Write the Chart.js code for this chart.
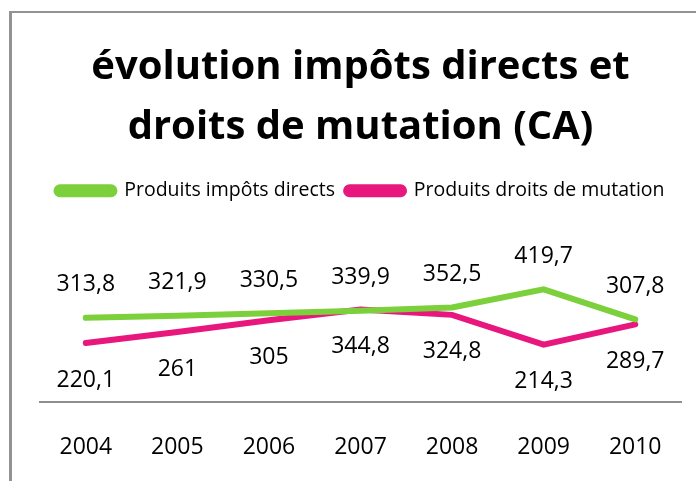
<!DOCTYPE html>
<html>
<head>
<meta charset="utf-8">
<script src="https://cdn.jsdelivr.net/npm/chart.js@4"></script>
<style>
  body { margin: 0; background: #fff; }
  #frame { position: absolute; left: 9px; top: 11px; width: 720px; height: 500px;
           border-left: 3px solid #929292; border-top: 2px solid #929292; }
  #wrap { position: absolute; left: 0; top: 0; width: 696px; height: 481px; }
</style>
</head>
<body>
<div id="frame"></div>
<div id="wrap"><canvas id="chart" width="696" height="481"></canvas></div>
<script>
// ── Data ──────────────────────────────────────────────────────────────────────
const YEARS = ['2004', '2005', '2006', '2007', '2008', '2009', '2010'];
const IMPOTS = [313.8, 321.9, 330.5, 339.9, 352.5, 419.7, 307.8];
const MUTATION = [220.1, 261, 305, 344.8, 324.8, 214.3, 289.7];

const GREEN = '#7CD03B';
const PINK = '#E8177D';
const FONT = "'Open Sans', sans-serif";

// value labels: green above the line, pink below
const valueLabels = {
  id: 'valueLabels',
  afterDatasetsDraw(chart) {
    const ctx = chart.ctx;
    ctx.save();
    ctx.font = '23px ' + FONT;
    ctx.fillStyle = '#000';
    ctx.textAlign = 'center';
    ctx.textBaseline = 'middle';
    chart.data.datasets.forEach((ds, i) => {
      const off = i === 0 ? -33 : 37;
      chart.getDatasetMeta(i).data.forEach((pt, j) => {
        const txt = String(ds.data[j]).replace('.', ',');
        ctx.fillText(txt, pt.x, pt.y + off);
      });
    });
    ctx.restore();
  }
};

new Chart(document.getElementById('chart'), {
  type: 'line',
  data: {
    labels: YEARS,
    datasets: [
      { label: 'Produits impôts directs', data: IMPOTS, borderColor: GREEN, backgroundColor: GREEN },
      { label: 'Produits droits de mutation', data: MUTATION, borderColor: PINK, backgroundColor: PINK },
    ],
  },
  options: {
    responsive: false,
    animation: false,
    layout: { padding: { left: 40, right: 15, top: 38, bottom: -11 } },
    elements: {
      line: { borderWidth: 6, tension: 0, borderCapStyle: 'round', borderJoinStyle: 'miter' },
      point: { radius: 0 },
    },
    plugins: {
      title: {
        display: true,
        text: ['évolution impôts directs et', 'droits de mutation (CA)'],
        font: { family: FONT, size: 40, weight: 'bold', lineHeight: 1.5 },
        color: '#000',
        padding: { top: 0, bottom: 12 },
      },
      legend: {
        display: true,
        labels: {
          boxWidth: 58,
          boxHeight: 7,
          useBorderRadius: true,
          borderRadius: 3.5,
          color: '#000',
          font: { family: FONT, size: 19.5 },
          padding: 11,
        },
      },
      tooltip: { enabled: false },
    },
    scales: {
      x: {
        offset: true,
        grid: { display: false, drawTicks: false },
        border: { display: true, color: '#8e8e8e', width: 2 },
        ticks: { color: '#000', font: { family: FONT, size: 23 }, padding: 31 },
      },
      y: { display: false, min: 0, max: 712 },
    },
  },
  plugins: [valueLabels],
});
</script>
</body>
</html>
